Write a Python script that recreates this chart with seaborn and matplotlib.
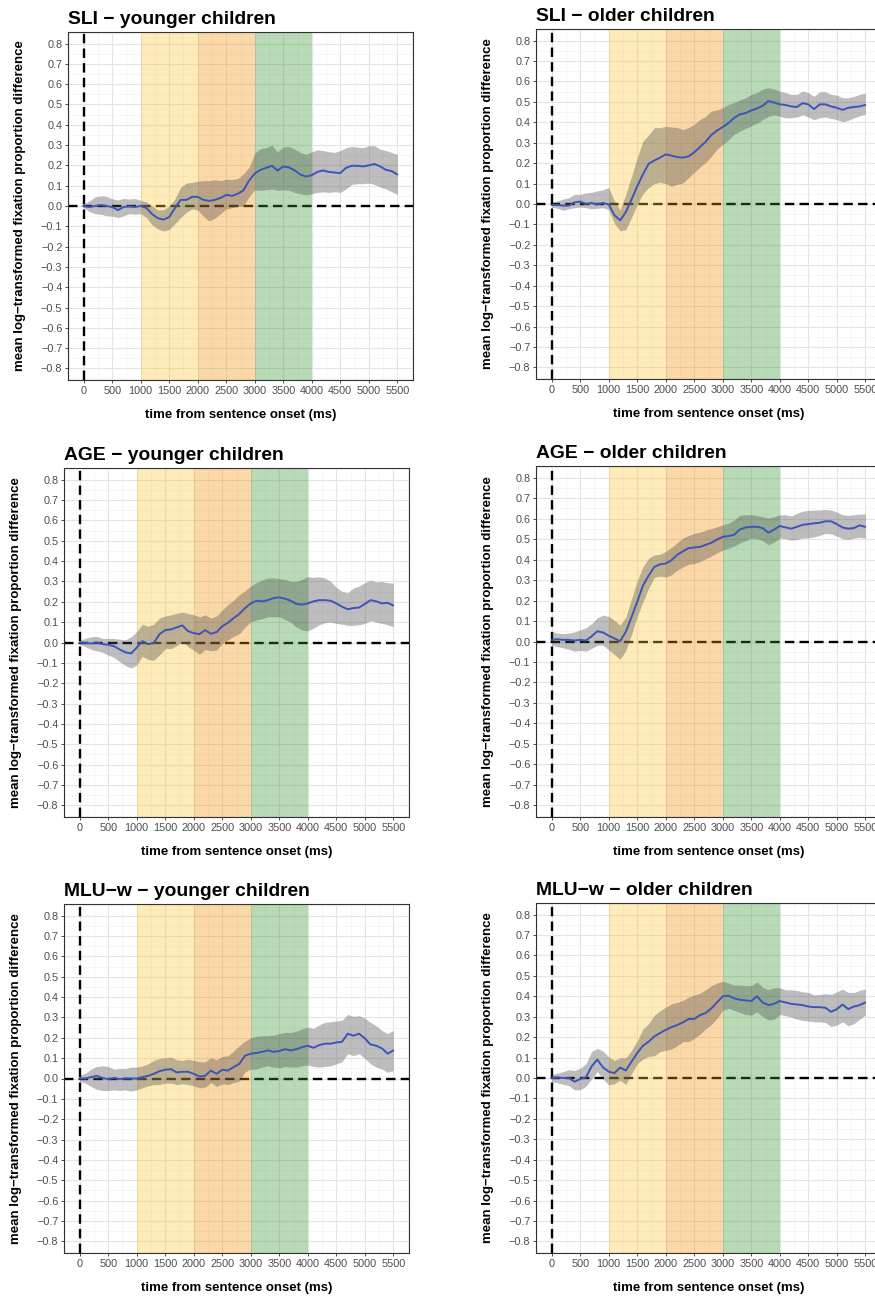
import matplotlib
matplotlib.use("Agg")
import matplotlib.pyplot as plt
from matplotlib.ticker import FuncFormatter, MultipleLocator
import numpy as np
import pandas as pd
import seaborn as sns

# time grid (ms from sentence onset), one sample every 100 ms
time_ms = list(range(0, 5501, 100))

sli_young_mean = [0.0, -0.005, 0.0, 0.005, 0.0, -0.005, -0.02, -0.005, -0.002, -0.005,
                  0.0, -0.01, -0.04, -0.06, -0.067, -0.055, -0.01, 0.03, 0.03, 0.045,
                  0.045, 0.03, 0.025, 0.03, 0.04, 0.055, 0.05, 0.06, 0.077, 0.125,
                  0.16, 0.178, 0.188, 0.198, 0.175, 0.195, 0.19, 0.175, 0.155, 0.145,
                  0.152, 0.168, 0.175, 0.168, 0.165, 0.162, 0.188, 0.198, 0.198, 0.195,
                  0.2, 0.207, 0.195, 0.178, 0.172, 0.155]
sli_young_hi = [0.01, 0.025, 0.045, 0.05, 0.048, 0.035, 0.03, 0.037, 0.034, 0.037,
                0.028, 0.02, 0.0, -0.02, -0.018, 0.0, 0.035, 0.093, 0.113, 0.116,
                0.122, 0.125, 0.125, 0.13, 0.125, 0.132, 0.13, 0.135, 0.158, 0.19,
                0.26, 0.283, 0.287, 0.3, 0.267, 0.29, 0.293, 0.28, 0.264, 0.254,
                0.267, 0.277, 0.273, 0.267, 0.264, 0.273, 0.287, 0.293, 0.29, 0.287,
                0.297, 0.297, 0.28, 0.273, 0.264, 0.254]
sli_young_lo = [-0.008, -0.028, -0.038, -0.041, -0.048, -0.05, -0.057, -0.048, -0.038, -0.041,
                -0.038, -0.057, -0.093, -0.113, -0.123, -0.116, -0.087, -0.057, -0.031, -0.015,
                -0.021, -0.05, -0.074, -0.06, -0.038, -0.015, -0.008, -0.002, 0.0, 0.045,
                0.08, 0.077, 0.08, 0.084, 0.077, 0.08, 0.077, 0.067, 0.06, 0.054,
                0.06, 0.067, 0.07, 0.067, 0.07, 0.067, 0.084, 0.106, 0.11, 0.11,
                0.113, 0.106, 0.093, 0.084, 0.07, 0.057]

sli_old_mean = [-0.005, -0.005, -0.008, -0.008, 0.008, 0.012, 0.0, 0.005, -0.002, 0.005,
                -0.002, -0.055, -0.08, -0.04, 0.022, 0.087, 0.145, 0.197, 0.213, 0.227,
                0.243, 0.237, 0.23, 0.227, 0.233, 0.253, 0.279, 0.305, 0.338, 0.36,
                0.377, 0.396, 0.422, 0.439, 0.445, 0.458, 0.468, 0.481, 0.504, 0.497,
                0.488, 0.485, 0.478, 0.475, 0.494, 0.488, 0.465, 0.488, 0.488, 0.478,
                0.471, 0.461, 0.471, 0.475, 0.478, 0.485]
sli_old_hi = [0.008, 0.015, 0.024, 0.031, 0.047, 0.047, 0.054, 0.057, 0.064, 0.07,
              0.08, 0.015, -0.028, 0.047, 0.135, 0.227, 0.308, 0.338, 0.374, 0.374,
              0.38, 0.377, 0.374, 0.364, 0.374, 0.39, 0.413, 0.429, 0.455, 0.461,
              0.471, 0.488, 0.497, 0.51, 0.52, 0.537, 0.546, 0.563, 0.569, 0.563,
              0.553, 0.546, 0.537, 0.537, 0.553, 0.546, 0.527, 0.55, 0.55, 0.537,
              0.533, 0.52, 0.52, 0.527, 0.537, 0.543]
sli_old_lo = [-0.015, -0.021, -0.031, -0.024, -0.018, -0.015, -0.018, -0.024, -0.021, -0.018,
              -0.028, -0.096, -0.132, -0.126, -0.067, -0.002, 0.05, 0.08, 0.1, 0.106,
              0.1, 0.087, 0.096, 0.103, 0.129, 0.155, 0.181, 0.204, 0.233, 0.269,
              0.292, 0.315, 0.341, 0.357, 0.37, 0.383, 0.396, 0.413, 0.429, 0.436,
              0.429, 0.422, 0.422, 0.426, 0.436, 0.426, 0.413, 0.422, 0.426, 0.419,
              0.413, 0.403, 0.41, 0.422, 0.432, 0.439]

age_young_mean = [0.0, -0.002, -0.005, 0.0, -0.008, -0.011, -0.018, -0.034, -0.048, -0.054,
                  -0.025, 0.007, -0.008, -0.002, 0.041, 0.061, 0.064, 0.074, 0.084, 0.056,
                  0.046, 0.041, 0.061, 0.043, 0.051, 0.08, 0.097, 0.12, 0.14, 0.169,
                  0.192, 0.205, 0.202, 0.208, 0.218, 0.222, 0.215, 0.205, 0.189, 0.186,
                  0.192, 0.202, 0.208, 0.208, 0.205, 0.192, 0.176, 0.163, 0.169, 0.172,
                  0.189, 0.208, 0.202, 0.192, 0.195, 0.182]
age_young_hi = [0.01, 0.02, 0.028, 0.03, 0.02, 0.02, 0.02, 0.016, 0.013, 0.028,
                0.053, 0.09, 0.08, 0.09, 0.12, 0.13, 0.136, 0.143, 0.149, 0.143,
                0.136, 0.126, 0.136, 0.12, 0.13, 0.159, 0.186, 0.208, 0.235, 0.254,
                0.277, 0.294, 0.307, 0.317, 0.317, 0.314, 0.31, 0.3, 0.3, 0.31,
                0.323, 0.32, 0.323, 0.317, 0.3, 0.271, 0.251, 0.245, 0.268, 0.277,
                0.294, 0.307, 0.297, 0.3, 0.294, 0.291]
age_young_lo = [-0.008, -0.021, -0.034, -0.041, -0.048, -0.061, -0.074, -0.094, -0.113, -0.126,
                -0.11, -0.067, -0.084, -0.087, -0.061, -0.03, -0.03, -0.016, 0.005, -0.021,
                -0.038, -0.058, -0.034, -0.041, -0.038, -0.005, 0.013, 0.03, 0.043, 0.076,
                0.102, 0.11, 0.117, 0.126, 0.126, 0.126, 0.113, 0.1, 0.076, 0.061,
                0.057, 0.07, 0.087, 0.097, 0.1, 0.094, 0.09, 0.084, 0.084, 0.087,
                0.094, 0.107, 0.1, 0.094, 0.087, 0.077]

age_old_mean = [0.008, 0.011, 0.008, 0.008, 0.005, 0.008, 0.005, 0.025, 0.05, 0.044,
                0.028, 0.015, 0.002, 0.047, 0.119, 0.194, 0.273, 0.322, 0.364, 0.377,
                0.381, 0.397, 0.423, 0.44, 0.456, 0.459, 0.462, 0.472, 0.482, 0.498,
                0.511, 0.515, 0.521, 0.547, 0.557, 0.56, 0.56, 0.554, 0.531, 0.547,
                0.564, 0.557, 0.551, 0.56, 0.57, 0.573, 0.577, 0.58, 0.587, 0.587,
                0.573, 0.557, 0.551, 0.554, 0.567, 0.56]
age_old_hi = [0.05, 0.041, 0.038, 0.041, 0.047, 0.057, 0.067, 0.087, 0.116, 0.129,
              0.123, 0.103, 0.08, 0.119, 0.208, 0.296, 0.364, 0.407, 0.423, 0.426,
              0.44, 0.459, 0.482, 0.505, 0.518, 0.528, 0.534, 0.544, 0.551, 0.56,
              0.57, 0.577, 0.593, 0.616, 0.619, 0.619, 0.616, 0.609, 0.603, 0.609,
              0.619, 0.619, 0.613, 0.626, 0.636, 0.64, 0.642, 0.642, 0.645, 0.642,
              0.632, 0.619, 0.616, 0.619, 0.622, 0.622]
age_old_lo = [-0.018, -0.025, -0.031, -0.038, -0.047, -0.044, -0.047, -0.034, -0.018, -0.018,
              -0.041, -0.064, -0.087, -0.044, 0.034, 0.123, 0.194, 0.26, 0.312, 0.319,
              0.315, 0.325, 0.348, 0.364, 0.377, 0.381, 0.39, 0.404, 0.417, 0.433,
              0.446, 0.456, 0.466, 0.482, 0.492, 0.505, 0.502, 0.492, 0.472, 0.485,
              0.505, 0.502, 0.495, 0.498, 0.505, 0.505, 0.511, 0.518, 0.528, 0.525,
              0.515, 0.502, 0.498, 0.505, 0.508, 0.505]

mlu_young_mean = [0.0, 0.0, 0.007, 0.013, 0.003, -0.003, 0.003, -0.003, 0.0, 0.0,
                  0.0, 0.007, 0.013, 0.023, 0.036, 0.043, 0.046, 0.03, 0.033, 0.033,
                  0.023, 0.01, 0.013, 0.039, 0.023, 0.043, 0.039, 0.056, 0.072, 0.112,
                  0.122, 0.125, 0.131, 0.138, 0.131, 0.135, 0.144, 0.138, 0.144, 0.154,
                  0.161, 0.151, 0.164, 0.171, 0.171, 0.177, 0.18, 0.22, 0.21, 0.22,
                  0.197, 0.167, 0.161, 0.148, 0.122, 0.138]
mlu_young_hi = [0.016, 0.026, 0.046, 0.059, 0.062, 0.059, 0.046, 0.049, 0.049, 0.056,
                0.056, 0.062, 0.072, 0.089, 0.099, 0.102, 0.105, 0.092, 0.089, 0.095,
                0.089, 0.082, 0.082, 0.102, 0.092, 0.108, 0.112, 0.135, 0.161, 0.184,
                0.2, 0.207, 0.21, 0.21, 0.213, 0.22, 0.226, 0.226, 0.233, 0.243,
                0.253, 0.246, 0.263, 0.276, 0.279, 0.282, 0.286, 0.315, 0.305, 0.309,
                0.296, 0.276, 0.259, 0.236, 0.22, 0.236]
mlu_young_lo = [-0.013, -0.023, -0.039, -0.053, -0.059, -0.059, -0.056, -0.059, -0.056, -0.062,
                -0.056, -0.046, -0.036, -0.03, -0.03, -0.023, -0.023, -0.03, -0.026, -0.03,
                -0.036, -0.046, -0.043, -0.02, -0.039, -0.026, -0.03, -0.02, -0.013, 0.033,
                0.046, 0.046, 0.056, 0.062, 0.056, 0.053, 0.059, 0.056, 0.056, 0.062,
                0.066, 0.059, 0.056, 0.059, 0.062, 0.072, 0.082, 0.122, 0.112, 0.122,
                0.099, 0.072, 0.056, 0.046, 0.03, 0.039]

mlu_old_mean = [0.0, 0.003, 0.0, 0.0, -0.018, -0.005, 0.003, 0.057, 0.09, 0.052,
                0.031, 0.024, 0.051, 0.037, 0.08, 0.122, 0.158, 0.178, 0.204, 0.22,
                0.236, 0.249, 0.259, 0.272, 0.289, 0.289, 0.308, 0.318, 0.341, 0.37,
                0.4, 0.403, 0.39, 0.383, 0.38, 0.377, 0.4, 0.37, 0.357, 0.363,
                0.377, 0.37, 0.363, 0.36, 0.357, 0.35, 0.347, 0.347, 0.344, 0.324,
                0.337, 0.36, 0.337, 0.35, 0.357, 0.37]
mlu_old_hi = [0.018, 0.024, 0.031, 0.041, 0.037, 0.047, 0.07, 0.129, 0.145, 0.132,
              0.103, 0.086, 0.099, 0.099, 0.135, 0.181, 0.24, 0.266, 0.308, 0.33,
              0.347, 0.363, 0.37, 0.38, 0.396, 0.406, 0.416, 0.432, 0.452, 0.465,
              0.474, 0.465, 0.455, 0.455, 0.452, 0.452, 0.471, 0.445, 0.432, 0.442,
              0.442, 0.432, 0.432, 0.429, 0.422, 0.419, 0.406, 0.409, 0.413, 0.409,
              0.422, 0.435, 0.419, 0.419, 0.429, 0.435]
mlu_old_lo = [-0.018, -0.024, -0.031, -0.037, -0.059, -0.057, -0.041, -0.005, 0.031, -0.005,
              -0.034, -0.028, -0.011, -0.031, 0.021, 0.07, 0.093, 0.106, 0.109, 0.129,
              0.135, 0.142, 0.158, 0.178, 0.178, 0.194, 0.214, 0.24, 0.262, 0.292,
              0.331, 0.341, 0.331, 0.321, 0.311, 0.308, 0.324, 0.301, 0.285, 0.288,
              0.311, 0.305, 0.298, 0.288, 0.282, 0.279, 0.275, 0.275, 0.272, 0.252,
              0.259, 0.275, 0.256, 0.266, 0.288, 0.308]

# analysis windows (ms) and their shading
windows = [(1000, 2000), (2000, 3000), (3000, 4000)]
window_colors = ["#FFC637", "#F69006", "#379531"]

panels = [
    ("SLI \u2212 younger children", sli_young_mean, sli_young_lo, sli_young_hi),
    ("SLI \u2212 older children", sli_old_mean, sli_old_lo, sli_old_hi),
    ("AGE \u2212 younger children", age_young_mean, age_young_lo, age_young_hi),
    ("AGE \u2212 older children", age_old_mean, age_old_lo, age_old_hi),
    ("MLU\u2212w \u2212 younger children", mlu_young_mean, mlu_young_lo, mlu_young_hi),
    ("MLU\u2212w \u2212 older children", mlu_old_mean, mlu_old_lo, mlu_old_hi),
]

# axes boxes in pixels: left, right, top, bottom
boxes = [(68, 413, 32, 380), (536, 881, 29, 379),
         (64, 409, 468, 817), (536, 881, 466, 817),
         (64, 409, 904, 1253), (536, 881, 903, 1253)]

sns.set_theme(style="whitegrid")
plt.rcParams['font.family'] = ['Liberation Sans', 'DejaVu Sans']
plt.rcParams['axes.unicode_minus'] = True

W, H = 875, 1298
fig = plt.figure(figsize=(W / 100, H / 100), dpi=100)

fmt = FuncFormatter(lambda v, p: f"{v:.1f}".replace("-", "\u2212") if abs(v) > 1e-9 else "0.0")

for (title, mean, lo, hi), (l, r, t, b) in zip(panels, boxes):
    ax = fig.add_axes([l / W, 1 - b / H, (r - l) / W, (b - t) / H])
    df = pd.DataFrame({"time": time_ms, "mean": mean, "lo": lo, "hi": hi})

    ax.axvline(0, color="black", lw=1.7, ls=(0, (4, 2.2)), zorder=1.2)
    ax.axhline(0, color="black", lw=1.7, ls=(0, (4, 2.2)), zorder=1.2)
    for (x0, x1), c in zip(windows, window_colors):
        ax.axvspan(x0, x1, color=c, alpha=0.35, lw=0, zorder=1.5)

    ax.fill_between(df["time"], df["lo"], df["hi"], color="#4a4a4a", alpha=0.36, lw=0, zorder=2)
    sns.lineplot(data=df, x="time", y="mean", ax=ax, color="#3B55B8", lw=1.4, zorder=3)

    ax.set_xlim(-275, 5775)
    ax.set_ylim(-0.857, 0.857)
    ax.set_xticks(range(0, 5501, 500))
    ax.set_yticks(np.round(np.arange(-8, 9) / 10, 1))
    ax.yaxis.set_major_formatter(fmt)
    ax.xaxis.set_minor_locator(MultipleLocator(250))
    ax.yaxis.set_minor_locator(MultipleLocator(0.05))
    ax.grid(which="major", color="#E4E4E4", lw=0.8)
    ax.grid(which="minor", color="#F1F1F1", lw=0.5)
    ax.set_axisbelow(True)
    ax.set_facecolor("white")
    for s in ax.spines.values():
        s.set_color("#333333")
        s.set_linewidth(0.8)

    ax.tick_params(which="major", length=2.5, width=0.6, color="#333333",
                   labelsize=7.8, labelcolor="#4D4D4D", pad=1.5, bottom=True, left=True)
    ax.tick_params(which="minor", length=0)

    ax.set_xlabel("time from sentence onset (ms)", fontsize=9.5, fontweight="bold", color="black")
    ax.set_ylabel("mean log\u2212transformed fixation proportion difference",
                  fontsize=9.5, fontweight="bold", color="black")
    ax.xaxis.set_label_coords(0.5, -0.083)
    ax.yaxis.set_label_coords(-0.122, 0.5)
    ax.set_title(title, loc="left", fontsize=13.9, fontweight="bold", pad=6, color="black")

fig.savefig("out.png", dpi=100)
